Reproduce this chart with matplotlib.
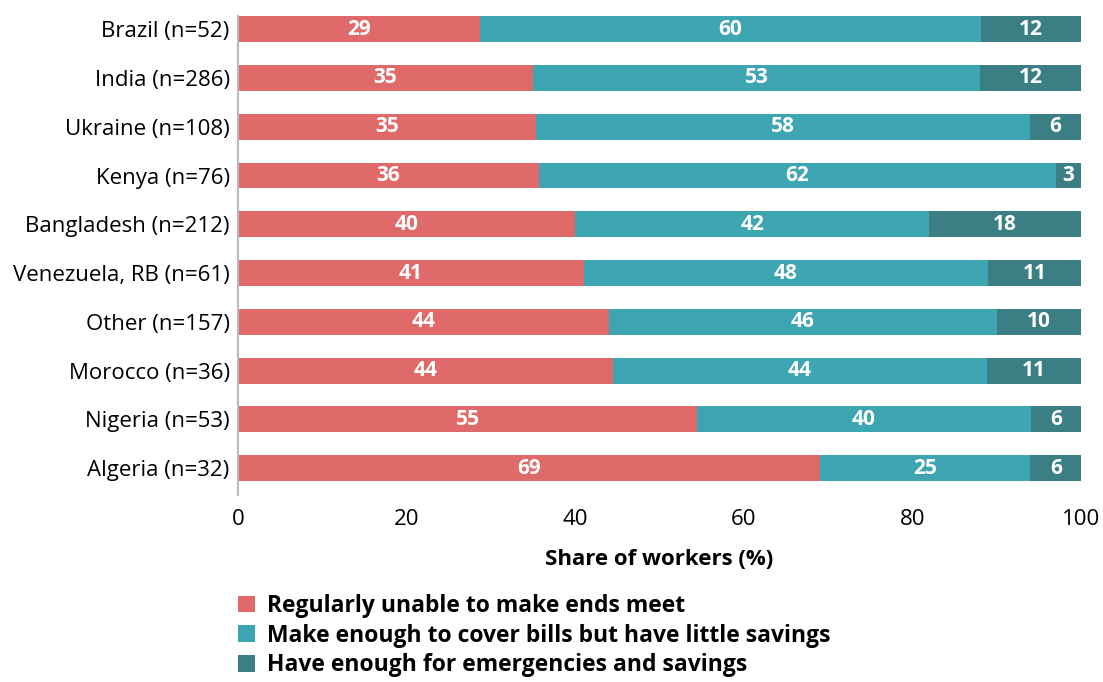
import numpy as np
import matplotlib.pyplot as plt
from matplotlib.patches import Patch

plt.rcParams['font.family'] = ['Open Sans', 'DejaVu Sans']

countries = ['Brazil (n=52)', 'India (n=286)', 'Ukraine (n=108)', 'Kenya (n=76)',
             'Bangladesh (n=212)', 'Venezuela, RB (n=61)', 'Other (n=157)',
             'Morocco (n=36)', 'Nigeria (n=53)', 'Algeria (n=32)']
unable = [29, 35, 35, 36, 40, 41, 44, 44, 55, 69]
little_savings = [60, 53, 58, 62, 42, 48, 46, 44, 40, 25]
enough = [12, 12, 6, 3, 18, 11, 10, 11, 6, 6]

series_names = ['Regularly unable to make ends meet',
                'Make enough to cover bills but have little savings',
                'Have enough for emergencies and savings']
colors = ['#E06A6A', '#3EA6B3', '#3B7F84']

fig = plt.figure(figsize=(11.03, 6.82), dpi=100)
ax = fig.add_axes([0.2158, 0.2742, 0.7643, 0.7023])

data = np.array([unable, little_savings, enough], dtype=float)
# rounded shares don't always add to 100, so scale each row to its total
shares = data / data.sum(axis=0) * 100

y = np.arange(len(countries))
left = np.zeros(len(countries))
for vals, widths, col in zip(data, shares, colors):
    bars = ax.barh(y, widths, left=left, height=0.53, color=col, edgecolor='none')
    for b, v in zip(bars, vals):
        ax.text(b.get_x() + b.get_width() / 2, b.get_y() + b.get_height() / 2,
                f'{int(v)}', ha='center', va='center', color='white',
                fontsize=15, fontweight='bold')
    left += widths

ax.set_xlim(0, 100)
ax.set_ylim(9.55, -0.27)
ax.set_yticks(y)
ax.set_yticklabels(countries, fontsize=16)
ax.set_xticks([0, 20, 40, 60, 80, 100])
ax.tick_params(axis='x', labelsize=16, length=0, pad=10)
ax.tick_params(axis='y', length=0, pad=6)
for s in ['top', 'right', 'bottom']:
    ax.spines[s].set_visible(False)
ax.spines['left'].set_color('#BBBBBB')
ax.spines['left'].set_linewidth(1.5)
ax.set_xlabel('Share of workers (%)', fontsize=16, fontweight='bold', labelpad=14)

handles = [Patch(facecolor=c, edgecolor='none') for c in colors]
fig.legend(handles, series_names, loc='upper left', bbox_to_anchor=(0.216, 0.129),
           frameon=False, prop={'size': 16.5, 'weight': 'bold'},
           handlelength=0.75, handleheight=0.75, handletextpad=0.5, labelspacing=0.25,
           borderaxespad=0, borderpad=0)

fig.savefig('out.png', dpi=100)
